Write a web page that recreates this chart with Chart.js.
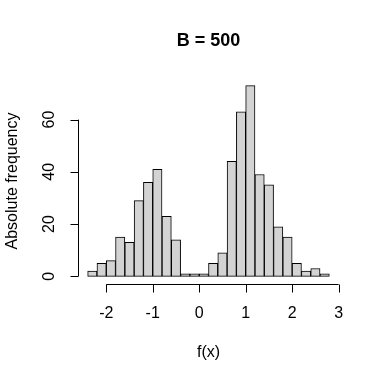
<!DOCTYPE html>
<html><head><meta charset="utf-8">
<script src="https://cdn.jsdelivr.net/npm/chart.js@4"></script>
<style>html,body{margin:0;padding:0;background:#fff}#wrap{width:380px;height:382px}</style>
</head><body><div id="wrap"><canvas id="c" width="380" height="382"></canvas></div>
<script>
const binStart = -2.4;
const binWidth = 0.2;
const counts = [2,5,6,15,13,29,36,41,23,14,1,1,1,5,9,44,63,73,39,35,19,15,5,2,3,1];
const xTicks = [-2,-1,0,1,2,3];
const yTicks = [0,20,40,60];
const titleText = "B = 500";
const xLabel = "f(x)";
const yLabel = "Absolute frequency";

const points = counts.map((c,i)=>({x: binStart + binWidth*(i+0.5), y: c}));
const xMin = binStart - 0.04*(binWidth*counts.length);
const xMax = binStart + binWidth*counts.length + 0.04*(binWidth*counts.length);
const yMaxV = Math.max(...counts);
const yMin = -0.04*yMaxV, yMax = yMaxV*1.04;
const FONT = '"Liberation Sans", Arial, sans-serif';

const axesPlugin = {
  id:'raxes',
  afterDraw(chart){
    const ctx = chart.ctx, xs = chart.scales.x, ys = chart.scales.y, a = chart.chartArea;
    ctx.save();
    ctx.strokeStyle = '#000'; ctx.lineWidth = 1; ctx.fillStyle = '#000';
    // x axis
    const yb = Math.round(a.bottom)+0.5;
    ctx.beginPath();
    ctx.moveTo(xs.getPixelForValue(xTicks[0]), yb);
    ctx.lineTo(xs.getPixelForValue(xTicks[xTicks.length-1]), yb);
    xTicks.forEach(v=>{const p=Math.round(xs.getPixelForValue(v))+0.5; ctx.moveTo(p,yb); ctx.lineTo(p,yb+8);});
    ctx.stroke();
    ctx.font = '16px '+FONT; ctx.textAlign='center'; ctx.textBaseline='middle';
    xTicks.forEach(v=>ctx.fillText(String(v), xs.getPixelForValue(v), 314));
    // y axis
    const xl = Math.round(a.left)+0.5;
    ctx.beginPath();
    ctx.moveTo(xl, ys.getPixelForValue(yTicks[0]));
    ctx.lineTo(xl, ys.getPixelForValue(yTicks[yTicks.length-1]));
    yTicks.forEach(v=>{const p=Math.round(ys.getPixelForValue(v))+0.5; ctx.moveTo(xl,p); ctx.lineTo(xl-8,p);});
    ctx.stroke();
    yTicks.forEach(v=>{ctx.save(); ctx.translate(50, ys.getPixelForValue(v)); ctx.rotate(-Math.PI/2); ctx.fillText(String(v),0,0); ctx.restore();});
    // axis labels
    ctx.fillText(xLabel, (a.left+a.right)/2, 353);
    ctx.save(); ctx.translate(13,(a.top+a.bottom)/2); ctx.rotate(-Math.PI/2); ctx.fillText(yLabel,0,0); ctx.restore();
    // title
    ctx.font = 'bold 18px '+FONT;
    ctx.fillText(titleText, (a.left+a.right)/2, 41);
    ctx.restore();
  }
};

new Chart(document.getElementById('c'), {
  type:'bar',
  data:{datasets:[{data:points, backgroundColor:'#D3D3D3', borderColor:'#000', borderWidth:1, barPercentage:1, categoryPercentage:1, borderSkipped:false}]},
  options:{
    responsive:false, animation:false, devicePixelRatio:1,
    layout:{padding:{left:78, right:41, top:78, bottom:98}},
    plugins:{legend:{display:false}, tooltip:{enabled:false}, title:{display:false}},
    scales:{
      x:{type:'linear', min:xMin, max:xMax, offset:false, display:false},
      y:{type:'linear', min:yMin, max:yMax, display:false}
    }
  },
  plugins:[axesPlugin]
});
</script></body></html>
